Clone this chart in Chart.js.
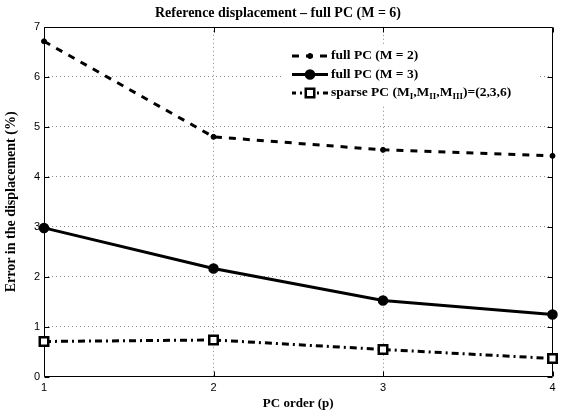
<!DOCTYPE html>
<html>
<head>
<meta charset="utf-8">
<script src="https://cdn.jsdelivr.net/npm/chart.js@4.4.1/dist/chart.umd.min.js"></script>
<style>
  html, body { margin: 0; padding: 0; background: #fff; }
  canvas { display: block; }
</style>
</head>
<body>
<canvas id="chart" width="561" height="417"></canvas>
<script>
// values
const pcOrder = [1, 2, 3, 4];
const errFullM2 = [6.71, 4.80, 4.54, 4.42];
const errFullM3 = [2.98, 2.17, 1.53, 1.25];
const errSparse = [0.71, 0.74, 0.55, 0.37];
const seriesLabels = ['full PC (M = 2)', 'full PC (M = 3)', 'sparse PC (M_{I},M_{II},M_{III})=(2,3,6)'];

const SERIF = '"Liberation Serif", "Times New Roman", serif';
const SANS = 'Helvetica, Arial, "Liberation Sans", sans-serif';

const toPoints = ys => pcOrder.map((x, i) => ({ x, y: ys[i] }));

// gridlines: dotted, skipped on the box edges
const gridColor = (edges) => (c) => (c.tick && edges.includes(c.tick.value)) ? 'rgba(0,0,0,0)' : '#8a8a8a';

// box round the plot + MATLAB style inner ticks
const frame = {
  id: 'frame',
  beforeDatasetsDraw(chart) {
    const { ctx, chartArea: a, scales: { x, y } } = chart;
    const L = Math.round(a.left) + 0.5, R = Math.round(a.right) - 0.5;
    const T = Math.round(a.top) + 0.5, B = Math.round(a.bottom) - 0.5;
    ctx.save();
    ctx.strokeStyle = '#000';
    ctx.lineWidth = 1;
    ctx.beginPath();
    ctx.rect(L, T, R - L, B - T);
    x.ticks.forEach(t => {
      const px = Math.round(x.getPixelForValue(t.value)) + 0.5;
      ctx.moveTo(px, B); ctx.lineTo(px, B - 5);
      ctx.moveTo(px, T); ctx.lineTo(px, T + 5);
    });
    y.ticks.forEach(t => {
      const py = Math.round(y.getPixelForValue(t.value)) + 0.5;
      ctx.moveTo(L, py); ctx.lineTo(L + 5, py);
      ctx.moveTo(R, py); ctx.lineTo(R - 5, py);
    });
    ctx.stroke();
    ctx.restore();
  }
};

// label text with _{sub} parts drawn as subscripts
function drawRichText(ctx, text, x, y, size) {
  const parts = text.split(/(_\{[^}]*\})/).filter(s => s.length);
  parts.forEach(p => {
    if (p.startsWith('_{')) {
      const s = p.slice(2, -1);
      ctx.font = `bold ${Math.round(size * 0.7)}px ${SERIF}`;
      ctx.fillText(s, x, y + 4);
      x += ctx.measureText(s).width;
    } else {
      ctx.font = `bold ${size}px ${SERIF}`;
      ctx.fillText(p, x, y);
      x += ctx.measureText(p).width;
    }
  });
}

// legend inside the axes, no border, white background
const insideLegend = {
  id: 'insideLegend',
  afterDraw(chart) {
    const { ctx } = chart;
    const boxX = 284, boxY = 45, boxW = 254, boxH = 61;
    const lineX0 = 292, lineX1 = 328, textX = 331;
    const rowY = [56, 74.5, 93];
    ctx.save();
    ctx.fillStyle = '#fff';
    ctx.fillRect(boxX, boxY, boxW, boxH);
    chart.data.datasets.forEach((ds, i) => {
      const yy = rowY[i];
      ctx.save();
      ctx.strokeStyle = ds.borderColor;
      ctx.lineWidth = ds.borderWidth;
      ctx.setLineDash(ds.borderDash || []);
      ctx.lineDashOffset = ds.legendDashOffset || 0;
      ctx.beginPath();
      ctx.moveTo(lineX0, yy);
      ctx.lineTo(lineX1, yy);
      ctx.stroke();
      ctx.restore();
      ctx.save();
      ctx.setLineDash([]);
      ctx.lineWidth = ds.pointBorderWidth;
      ctx.strokeStyle = ds.pointBorderColor;
      ctx.fillStyle = ds.pointBackgroundColor;
      Chart.helpers.drawPoint(ctx, {
        pointStyle: ds.pointStyle,
        radius: ds.pointRadius,
        borderWidth: ds.pointBorderWidth,
        rotation: 0
      }, (lineX0 + lineX1) / 2, yy);
      ctx.restore();
      ctx.fillStyle = '#000';
      ctx.textBaseline = 'middle';
      ctx.textAlign = 'left';
      drawRichText(ctx, ds.label, textX, yy, 13.5);
    });
    ctx.restore();
  }
};

new Chart(document.getElementById('chart'), {
  type: 'line',
  data: {
    datasets: [
      {
        label: seriesLabels[0],
        data: toPoints(errFullM2),
        borderColor: '#000',
        borderWidth: 3,
        borderDash: [7, 7],
        legendDashOffset: 0,
        pointStyle: 'circle',
        pointRadius: 2.5,
        pointBorderWidth: 1,
        pointBorderColor: '#000',
        pointBackgroundColor: '#000'
      },
      {
        label: seriesLabels[1],
        data: toPoints(errFullM3),
        borderColor: '#000',
        borderWidth: 3,
        pointStyle: 'circle',
        pointRadius: 4.5,
        pointBorderWidth: 1.5,
        pointBorderColor: '#000',
        pointBackgroundColor: '#000'
      },
      {
        label: seriesLabels[2],
        data: toPoints(errSparse),
        borderColor: '#000',
        borderWidth: 3,
        borderDash: [7, 4, 2, 4],
        legendDashOffset: 3,
        pointStyle: 'rect',
        pointRadius: 6,
        pointBorderWidth: 2.5,
        pointBorderColor: '#000',
        pointBackgroundColor: '#fff'
      }
    ]
  },
  options: {
    responsive: false,
    animation: false,
    devicePixelRatio: 1,
    clip: false,
    layout: { padding: { left: 0, right: 5, top: 0, bottom: 0 } },
    elements: { line: { tension: 0, borderCapStyle: 'butt' } },
    plugins: {
      legend: { display: false },
      tooltip: { enabled: false },
      title: {
        display: true,
        text: 'Reference displacement \u2013 full PC (M = 6)',
        color: '#000',
        font: { family: SERIF, size: 14, weight: 'bold' },
        padding: { top: 5, bottom: 5 }
      }
    },
    scales: {
      x: {
        type: 'linear',
        min: 1,
        max: 4,
        ticks: { stepSize: 1, color: '#000', padding: 4, font: { family: SANS, size: 11 } },
        grid: { drawTicks: false, color: gridColor([1, 4]), lineWidth: 1 },
        border: { display: false, dash: [1, 3] },
        title: {
          display: true,
          text: 'PC order (p)',
          color: '#000',
          font: { family: SERIF, size: 13, weight: 'bold' },
          padding: { top: 0, bottom: 6 }
        },
        afterFit(scale) {
          scale.height = 40;
          scale.paddingLeft = 0;
          scale.paddingRight = 0;
        }
      },
      y: {
        min: 0,
        max: 7,
        ticks: { stepSize: 1, color: '#000', padding: 4, font: { family: SANS, size: 11 } },
        grid: { drawTicks: false, color: gridColor([0, 7]), lineWidth: 1 },
        border: { display: false, dash: [1, 3] },
        title: {
          display: true,
          text: 'Error in the displacement (%)',
          color: '#000',
          font: { family: SERIF, size: 14, weight: 'bold' },
          padding: { top: 3, bottom: 0 }
        },
        afterFit(scale) {
          scale.width = 44;
          scale.paddingTop = 0;
          scale.paddingBottom = 0;
        }
      }
    }
  },
  plugins: [frame, insideLegend]
});
</script>
</body>
</html>
